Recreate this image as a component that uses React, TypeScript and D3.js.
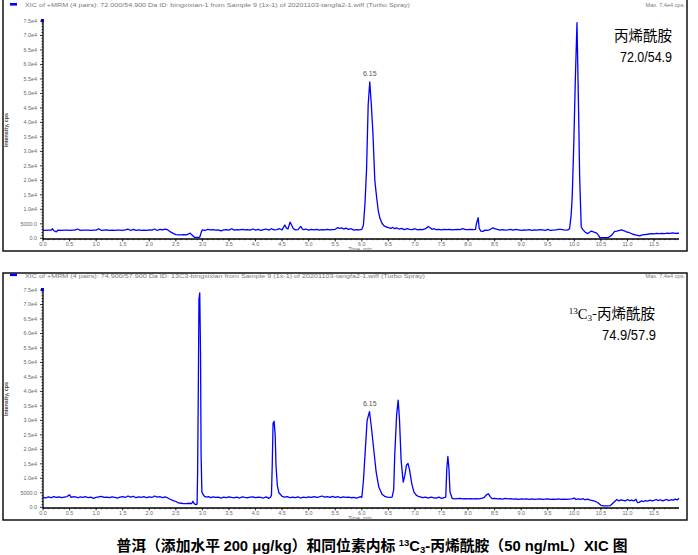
import React from "react";
import * as d3 from "d3";

// ---------- data ----------
// Analyte XIC (72.0/54.9): [time (min), intensity (cps)]
const analyteXic: [number, number][] = [
  [0.0, 2800], [0.05, 2750], [0.1, 2850], [0.15, 2800], [0.18, 3300], [0.2, 2700], [0.25, 2200], [0.28, 2800],
  [0.35, 2750], [0.4, 2850], [0.45, 2800], [0.5, 2750], [0.55, 2850], [0.6, 2800], [0.65, 3200], [0.7, 2750],
  [0.75, 2800], [0.8, 2850], [0.85, 2800], [0.9, 2750], [0.95, 2850], [1.0, 2800], [1.05, 3300], [1.1, 2700],
  [1.15, 2800], [1.2, 2900], [1.25, 2700], [1.3, 2850], [1.35, 2750], [1.4, 2800], [1.45, 2850], [1.5, 2750],
  [1.55, 2900], [1.6, 3200], [1.65, 2700], [1.7, 3100], [1.75, 2750], [1.8, 2900], [1.85, 2700], [1.9, 2850],
  [1.95, 2750], [2.0, 2900], [2.05, 2800], [2.1, 3200], [2.15, 2700], [2.2, 3100], [2.25, 2950], [2.3, 3200],
  [2.35, 2900], [2.4, 2200], [2.45, 1700], [2.5, 1300], [2.55, 1200], [2.6, 1200], [2.65, 1250], [2.7, 1200],
  [2.74, 1500], [2.77, 1800], [2.8, 1200], [2.85, 350], [2.9, 300], [2.95, 350], [2.98, 2200], [3.0, 2900],
  [3.05, 2700], [3.1, 3100], [3.15, 2900], [3.2, 3000], [3.25, 2800], [3.3, 2900], [3.35, 2600], [3.4, 2900],
  [3.45, 3000], [3.5, 2800], [3.55, 3300], [3.6, 2800], [3.65, 3000], [3.7, 2900], [3.75, 3100], [3.8, 2900],
  [3.85, 3000], [3.9, 2800], [3.95, 3200], [4.0, 2800], [4.05, 3100], [4.1, 2700], [4.15, 3000], [4.2, 3200],
  [4.25, 2800], [4.3, 3300], [4.35, 2900], [4.4, 3000], [4.45, 3300], [4.5, 2900], [4.55, 4600], [4.58, 3600],
  [4.61, 3200], [4.65, 5600], [4.68, 4500], [4.71, 3400], [4.75, 2900], [4.8, 3000], [4.85, 4100], [4.88, 3200],
  [4.9, 3000], [4.95, 3200], [5.0, 2800], [5.05, 3100], [5.1, 2900], [5.15, 3100], [5.2, 2800], [5.25, 3000],
  [5.3, 2900], [5.35, 3100], [5.4, 2900], [5.45, 3000], [5.5, 3100], [5.55, 3700], [5.58, 3400], [5.62, 3600],
  [5.66, 3200], [5.7, 3500], [5.75, 3100], [5.8, 3300], [5.85, 2800], [5.9, 3000], [5.95, 2900], [6.0, 3100],
  [6.03, 4500], [6.06, 12000], [6.09, 24000], [6.12, 46000], [6.15, 54000], [6.18, 46000], [6.21, 36000],
  [6.245, 20000], [6.28, 14000], [6.31, 9500], [6.34, 7000], [6.38, 5200], [6.42, 4300], [6.46, 3900],
  [6.5, 3700], [6.55, 3400], [6.58, 3800], [6.62, 3300], [6.65, 3600], [6.7, 3200], [6.75, 3400], [6.8, 3000],
  [6.85, 3300], [6.9, 3100], [6.95, 3000], [7.0, 3300], [7.05, 2900], [7.1, 3100], [7.15, 3000], [7.2, 3300],
  [7.25, 4100], [7.28, 3700], [7.32, 3100], [7.35, 3300], [7.4, 3000], [7.45, 3100], [7.5, 2900], [7.55, 3100],
  [7.6, 3000], [7.65, 3100], [7.7, 2900], [7.75, 3000], [7.8, 3100], [7.85, 3000], [7.9, 3300], [7.95, 3000],
  [8.0, 3000], [8.05, 3100], [8.1, 3000], [8.14, 3100], [8.16, 5200], [8.19, 7100], [8.21, 3400], [8.24, 2500],
  [8.28, 2400], [8.32, 2800], [8.36, 2700], [8.4, 2900], [8.44, 3300], [8.47, 3600], [8.5, 3300], [8.55, 3100],
  [8.6, 2800], [8.65, 3000], [8.7, 2800], [8.75, 2900], [8.8, 3100], [8.85, 2800], [8.9, 3100], [8.95, 2900],
  [9.0, 2700], [9.05, 2900], [9.1, 2800], [9.15, 3000], [9.2, 2700], [9.25, 2900], [9.3, 2800], [9.35, 3000],
  [9.4, 2900], [9.45, 2700], [9.5, 3100], [9.55, 2700], [9.6, 2800], [9.65, 2900], [9.7, 3100], [9.75, 3100],
  [9.8, 2900], [9.85, 2800], [9.88, 2900], [9.91, 3300], [9.94, 8000], [9.96, 14300], [9.99, 32700],
  [10.02, 55700], [10.05, 74400], [10.08, 44200], [10.1, 21200], [10.13, 3900], [10.16, 3000], [10.2, 2200],
  [10.25, 1600], [10.28, 2000], [10.32, 2500], [10.36, 2200], [10.42, 1800], [10.46, 900], [10.48, 250],
  [10.55, 250], [10.64, 250], [10.7, 1000], [10.76, 2400], [10.8, 2500], [10.85, 2700], [10.89, 2900],
  [10.94, 2600], [10.98, 2200], [11.03, 2000], [11.1, 1400], [11.15, 1200], [11.23, 850], [11.28, 1200],
  [11.33, 1300], [11.38, 1400], [11.45, 1600], [11.5, 1500], [11.55, 1700], [11.6, 1600], [11.65, 1700],
  [11.7, 1600], [11.75, 1800], [11.8, 1700], [11.85, 1900], [11.9, 1700], [11.95, 1800], [11.97, 1700],
];

// Internal standard XIC (74.9/57.9)
const internalStdXic: [number, number][] = [
  [0.0, 3500], [0.05, 3200], [0.1, 3600], [0.15, 3300], [0.2, 3700], [0.25, 3400], [0.3, 3600], [0.35, 3300],
  [0.4, 3500], [0.45, 3700], [0.5, 4300], [0.53, 3400], [0.58, 3700], [0.62, 3500], [0.66, 3300], [0.7, 3600],
  [0.75, 3400], [0.8, 3700], [0.85, 3300], [0.9, 3500], [0.95, 3100], [1.0, 3400], [1.05, 3600], [1.1, 3800],
  [1.15, 3400], [1.2, 3500], [1.25, 3300], [1.3, 3600], [1.35, 3400], [1.4, 3200], [1.45, 3500], [1.5, 3700],
  [1.55, 3400], [1.6, 3900], [1.65, 3500], [1.7, 3800], [1.75, 3300], [1.8, 3600], [1.85, 3400], [1.9, 3700],
  [1.95, 3300], [2.0, 3600], [2.05, 3400], [2.1, 3900], [2.15, 3500], [2.2, 3700], [2.25, 3300], [2.3, 3600],
  [2.35, 3200], [2.4, 2700], [2.45, 2300], [2.5, 2000], [2.55, 1500], [2.6, 1400], [2.65, 1300], [2.7, 1300],
  [2.75, 1400], [2.8, 1300], [2.82, 2100], [2.85, 1200], [2.88, 900], [2.9, 1100], [2.91, 12000],
  [2.925, 45000], [2.935, 71800], [2.95, 74000], [2.965, 53000], [2.975, 18600], [2.99, 5300], [3.01, 4500],
  [3.04, 3800], [3.08, 3500], [3.12, 3700], [3.15, 3300], [3.2, 3600], [3.25, 3400], [3.3, 3500], [3.35, 3200],
  [3.4, 3500], [3.45, 3300], [3.5, 3600], [3.55, 3400], [3.6, 3300], [3.65, 3500], [3.7, 3200], [3.75, 3600],
  [3.8, 3400], [3.85, 3300], [3.9, 3500], [3.95, 3600], [4.0, 3300], [4.05, 3500], [4.1, 3400], [4.15, 3200],
  [4.2, 3600], [4.25, 3100], [4.28, 3500], [4.3, 4200], [4.315, 15000], [4.33, 29000], [4.35, 29700],
  [4.37, 24900], [4.385, 14500], [4.41, 7600], [4.44, 5000], [4.47, 4400], [4.5, 3800], [4.55, 3500],
  [4.6, 3700], [4.65, 3300], [4.7, 3500], [4.75, 3300], [4.8, 3600], [4.85, 3200], [4.9, 3500], [4.95, 3300],
  [5.0, 3600], [5.05, 3400], [5.1, 3700], [5.15, 3400], [5.2, 3600], [5.25, 3900], [5.3, 3500], [5.35, 3700],
  [5.4, 3400], [5.45, 3800], [5.5, 3400], [5.55, 3700], [5.6, 3300], [5.65, 3600], [5.7, 3400], [5.75, 3500],
  [5.8, 3300], [5.85, 3400], [5.9, 3200], [5.95, 3500], [5.98, 3700], [6.0, 3400], [6.03, 9000], [6.06, 18000],
  [6.1, 30000], [6.145, 33000], [6.18, 27700], [6.23, 19100], [6.27, 12200], [6.32, 7000], [6.38, 4500],
  [6.43, 3800], [6.48, 3500], [6.53, 3400], [6.57, 3500], [6.6, 6000], [6.62, 18000], [6.655, 31800],
  [6.685, 37000], [6.71, 30000], [6.74, 16200], [6.78, 8700], [6.81, 11000], [6.84, 14500], [6.87, 15100],
  [6.9, 12800], [6.94, 8200], [6.98, 5300], [7.02, 4300], [7.06, 3800], [7.1, 3600], [7.15, 3300], [7.2, 3500],
  [7.25, 3200], [7.3, 3500], [7.35, 3300], [7.4, 3200], [7.45, 3500], [7.5, 3100], [7.55, 3300], [7.58, 3500],
  [7.6, 13400], [7.62, 17600], [7.64, 13400], [7.66, 5300], [7.7, 3100], [7.75, 2900], [7.8, 3000], [7.85, 3100],
  [7.9, 2900], [7.95, 3000], [8.0, 2900], [8.05, 3000], [8.1, 2900], [8.15, 3000], [8.2, 2900], [8.25, 3100],
  [8.3, 3300], [8.34, 4200], [8.38, 4700], [8.42, 3600], [8.45, 3000], [8.5, 3100], [8.55, 2900], [8.6, 3000],
  [8.65, 2800], [8.7, 3100], [8.75, 2900], [8.8, 3000], [8.85, 2800], [8.9, 2900], [8.95, 2700], [9.0, 2900],
  [9.05, 2800], [9.1, 2900], [9.15, 2700], [9.2, 2900], [9.25, 2700], [9.3, 2800], [9.35, 2900], [9.4, 2700],
  [9.45, 2800], [9.5, 2900], [9.55, 2700], [9.6, 2800], [9.65, 2700], [9.7, 2900], [9.75, 2700], [9.8, 2800],
  [9.85, 2700], [9.9, 2800], [9.95, 2900], [10.0, 3200], [10.03, 2700], [10.08, 2900], [10.12, 2700],
  [10.16, 3000], [10.2, 2600], [10.25, 2800], [10.3, 2500], [10.35, 2300], [10.4, 2000], [10.45, 1500],
  [10.5, 700], [10.55, 500], [10.62, 500], [10.68, 600], [10.72, 1300], [10.77, 2200], [10.8, 2700],
  [10.84, 2200], [10.88, 2600], [10.92, 2400], [10.96, 2200], [11.0, 2700], [11.04, 2300], [11.08, 2500],
  [11.12, 2200], [11.16, 2800], [11.19, 1600], [11.22, 1700], [11.26, 2200], [11.3, 2000], [11.34, 2300],
  [11.38, 2100], [11.42, 2500], [11.46, 2200], [11.5, 2400], [11.54, 2700], [11.58, 2300], [11.62, 2600],
  [11.66, 2200], [11.7, 2500], [11.74, 2700], [11.78, 2300], [11.82, 2600], [11.86, 2500], [11.9, 2800],
  [11.94, 2600], [11.97, 3100],
];

const xTickValues = [0, 0.5, 1, 1.5, 2, 2.5, 3, 3.5, 4, 4.5, 5, 5.5, 6, 6.5, 7, 7.5, 8, 8.5, 9, 9.5, 10, 10.5, 11, 11.5];
const xTickLabels = ["0.0", "0.5", "1.0", "1.5", "2.0", "2.5", "3.0", "3.5", "4.0", "4.5", "5.0", "5.5", "6.0", "6.5", "7.0", "7.5", "8.0", "8.5", "9.0", "9.5", "10.0", "10.5", "11.0", "11.5"];
const yTickValues = [0, 5000, 10000, 15000, 20000, 25000, 30000, 35000, 40000, 45000, 50000, 55000, 60000, 65000, 70000, 75000];
const yTickLabels = ["0.0", "5000.0", "1.0e4", "1.5e4", "2.0e4", "2.5e4", "3.0e4", "3.5e4", "4.0e4", "4.5e4", "5.0e4", "5.5e4", "6.0e4", "6.5e4", "7.0e4", "7.5e4"];

const headerTexts = [
  "XIC of +MRM (4 pairs): 72.000/54.900 Da ID: bingxixian-1 from Sample 9 (1x-1) of 20201103-tangfa2-1.wiff (Turbo Spray)",
  "XIC of +MRM (4 pairs): 74.900/57.900 Da ID: 13C3-bingxixian from Sample 9 (1x-1) of 20201103-tangfa2-1.wiff (Turbo Spray)",
];
const maxTexts = ["Max. 7.4e4 cps.", "Max. 7.4e4 cps."];
const peakLabelTimes = [6.15, 6.15];
const peakLabelValues = [54000, 33000];
const transitions = ["72.0/54.9", "74.9/57.9"];
const compoundName = "丙烯酰胺";

// ---------- layout ----------
const W = 698;
const H = 555;
const X0 = 43;
const X1 = 679;
const PANEL_DY = [0, 269];
const FRAME_TOP = [-2, 273];
const FRAME_BOTTOM = [251, 520];
const Y_ZERO = 238.3;
const Y_TOP = 21;
const BLUE = "#0000ff";
const FONT = "'Liberation Sans', Arial, sans-serif";
const CJK = "'Noto Sans CJK SC', 'Liberation Sans', sans-serif";

function Panel({ idx, data }: { idx: number; data: [number, number][] }) {
  const dy = PANEL_DY[idx];
  const x = d3.scaleLinear().domain([0, 11.97]).range([X0, X1]);
  const y = d3.scaleLinear().domain([0, 75000]).range([Y_ZERO + dy, Y_TOP + dy]);
  const line = d3
    .line<[number, number]>()
    .x((d) => x(d[0]))
    .y((d) => y(d[1]));
  const minorY = d3.range(0, 75001, 1000);
  const minorX = d3.range(0, 11.97, 0.1);
  const axisY = Y_ZERO + dy + 0.7;
  const tickColor = "#6a6a6a";
  return (
    <g>
      <rect
        x={3}
        y={FRAME_TOP[idx]}
        width={684}
        height={FRAME_BOTTOM[idx] - FRAME_TOP[idx]}
        fill="none"
        stroke="#000"
        strokeWidth={1.4}
      />
      {/* header */}
      <rect x={10} y={FRAME_TOP[idx] + (idx === 0 ? 5 : 0.5)} width={7} height={2.6} fill={BLUE} />
      <text
        x={25}
        y={FRAME_TOP[idx] + (idx === 0 ? 8.5 : 4.6)}
        fontSize={5.6}
        fontFamily={FONT}
        fill="#7a7a7a"
        textLength={idx === 0 ? 385 : 400}
        lengthAdjust="spacingAndGlyphs"
      >
        {headerTexts[idx]}
      </text>
      <text
        x={685}
        y={FRAME_TOP[idx] + (idx === 0 ? 8.5 : 4.6)}
        fontSize={5.6}
        fontFamily={FONT}
        fill="#7a7a7a"
        textAnchor="end"
      >
        {maxTexts[idx]}
      </text>
      {/* axes */}
      <line x1={X0} x2={X0} y1={y(75000) - 2} y2={axisY} stroke="#000" strokeWidth={1.3} />
      <line x1={X0} x2={X1} y1={axisY} y2={axisY} stroke="#000" strokeWidth={1.3} />
      <rect x={41} y={y(75000) - 2} width={3} height={3.2} fill={BLUE} />
      {minorY.map((v) => (
        <line key={"my" + v} x1={X0 - (v % 5000 === 0 ? 3 : 1.5)} x2={X0} y1={y(v)} y2={y(v)} stroke="#000" strokeWidth={0.8} />
      ))}
      {yTickValues.map((v, i) => (
        <text key={"yl" + v} x={37} y={y(v) + 2} fontSize={5.4} fontFamily={FONT} fill={tickColor} textAnchor="end">
          {yTickLabels[i]}
        </text>
      ))}
      {minorX.map((t) => (
        <line key={"mx" + t} x1={x(t)} x2={x(t)} y1={axisY} y2={axisY + 1.2} stroke="#000" strokeWidth={0.7} />
      ))}
      {xTickValues.map((t, i) => (
        <g key={"xl" + t}>
          <line x1={x(t)} x2={x(t)} y1={axisY} y2={axisY + 2.4} stroke="#000" strokeWidth={0.8} />
          <text x={x(t)} y={axisY + 6.8} fontSize={5.4} fontFamily={FONT} fill={tickColor} textAnchor="middle">
            {xTickLabels[i]}
          </text>
        </g>
      ))}
      <text x={360} y={axisY + 11.5} fontSize={5.4} fontFamily={FONT} fill={tickColor} textAnchor="middle">
        Time, min
      </text>
      <text
        transform={`translate(8, ${130 + dy}) rotate(-90)`}
        fontSize={5.4}
        fontFamily={FONT}
        fontWeight="bold"
        fill="#444"
        textAnchor="middle"
      >
        Intensity, cps
      </text>
      {/* trace */}
      <path d={line(data) ?? ""} fill="none" stroke={BLUE} strokeWidth={1.3} strokeLinejoin="round" />
      {/* peak label */}
      <text
        x={x(peakLabelTimes[idx])}
        y={y(peakLabelValues[idx]) - 6}
        fontSize={7}
        fontFamily={FONT}
        fill="#555"
        textAnchor="middle"
      >
        {peakLabelTimes[idx].toFixed(2)}
      </text>
      {/* compound labels */}
      {idx === 0 ? (
        <text x={672} y={41 + dy} fontSize={14.5} fontFamily={CJK} fill="#000" textAnchor="end">
          {compoundName}
        </text>
      ) : (
        <text x={655} y={41 + dy + 9} fontSize={14.5} fontFamily={CJK} fill="#000" textAnchor="end">
          <tspan fontSize={9} dy={-5} fontFamily="'Liberation Serif', serif">13</tspan>
          <tspan dy={5} fontFamily="'Liberation Serif', serif">C</tspan>
          <tspan fontSize={9} dy={2} fontFamily="'Liberation Serif', serif">3</tspan>
          <tspan dy={-2}>-{compoundName}</tspan>
        </text>
      )}
      <text
        x={idx === 0 ? 672 : 656}
        y={(idx === 0 ? 61.5 : 70.5) + dy}
        fontSize={14}
        fontFamily={FONT}
        fill="#000"
        textAnchor="end"
        textLength={idx === 0 ? 52 : 54}
        lengthAdjust="spacingAndGlyphs"
      >
        {transitions[idx]}
      </text>
    </g>
  );
}

export default function App() {
  return (
    <svg
      width={W}
      height={H}
      viewBox={`0 0 ${W} ${H}`}
      style={{ position: "absolute", left: 0, top: 0, background: "#fff" }}
    >
      <rect x={0} y={0} width={W} height={H} fill="#fff" />
      <Panel idx={0} data={analyteXic} />
      <Panel idx={1} data={internalStdXic} />
      <text x={372} y={550.5} fontSize={14.8} fontWeight="bold" fontFamily={CJK} fill="#000" textAnchor="middle">
        <tspan>普洱（添加水平 </tspan>
        <tspan fontFamily={FONT}>200 μg/kg</tspan>
        <tspan>）和同位素内标 </tspan>
        <tspan fontFamily={FONT} fontSize={9.5} dy={-5}>13</tspan>
        <tspan fontFamily={FONT} dy={5}>C</tspan>
        <tspan fontFamily={FONT} fontSize={9.5} dy={2}>3</tspan>
        <tspan fontFamily={FONT} dy={-2}>-</tspan>
        <tspan>{compoundName}（</tspan>
        <tspan fontFamily={FONT}>50 ng/mL</tspan>
        <tspan>）</tspan>
        <tspan fontFamily={FONT}>XIC </tspan>
        <tspan>图</tspan>
      </text>
    </svg>
  );
}
